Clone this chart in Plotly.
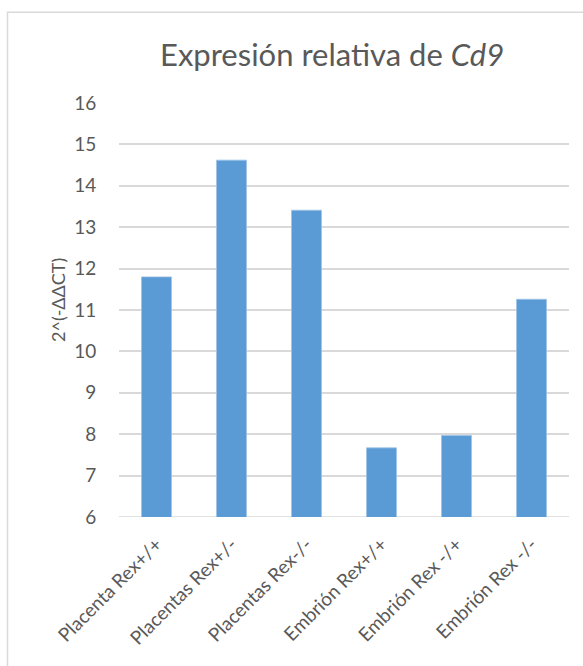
import plotly.graph_objects as go

# Relative Cd9 expression per sample group
categories = [
    "Placenta Rex+/+",
    "Placentas Rex+/-",
    "Placentas Rex-/-",
    "Embrión Rex+/+",
    "Embrión Rex -/+",
    "Embrión Rex -/-",
]
values = [11.80, 14.62, 13.41, 7.67, 7.97, 11.26]
y_ticks = [6, 7, 8, 9, 10, 11, 12, 13, 14, 15, 16]

W, H = 583, 666
ML, MR, MT, MB = 119, 14, 103, 149
PW, PH = W - ML - MR, H - MT - MB

FONT = "Lato"
GRAY = "#595959"
GRID = "#D9D9D9"


def px_x(px):
    return (px - ML) / PW


def px_y(py):
    return (H - MB - py) / PH


fig = go.Figure(
    go.Bar(
        x=categories,
        y=values,
        marker=dict(color="#5B9BD5", line=dict(color="#9DC3E6", width=0.8)),
    )
)

fig.update_layout(
    width=W,
    height=H,
    margin=dict(l=ML, r=MR, t=MT, b=MB, pad=0),
    paper_bgcolor="white",
    plot_bgcolor="white",
    bargap=0.6,
    showlegend=False,
    font=dict(family=FONT, color=GRAY),
    xaxis=dict(
        type="category",
        tickangle=-45,
        tickfont=dict(family=FONT, size=19, color=GRAY),
        showgrid=False,
        showline=False,
        zeroline=False,
        ticks="outside",
        ticklen=8,
        tickcolor="rgba(0,0,0,0)",
    ),
    yaxis=dict(
        range=[6, 16],
        tickvals=y_ticks,
        tickfont=dict(family=FONT, size=19, color=GRAY),
        showgrid=True,
        gridcolor=GRID,
        gridwidth=1.5,
        zeroline=False,
        showline=False,
        ticks="outside",
        ticklen=18,
        tickcolor="rgba(0,0,0,0)",
    ),
    shapes=[
        # chart frame
        dict(
            type="rect",
            xref="paper",
            yref="paper",
            x0=px_x(7.5),
            x1=px_x(600),
            y0=px_y(700),
            y1=px_y(12.3),
            line=dict(color=GRID, width=1.5),
            fillcolor="rgba(0,0,0,0)",
            layer="below",
        ),
        # category axis baseline
        dict(
            type="line",
            xref="paper",
            yref="y",
            x0=0,
            x1=1,
            y0=6,
            y1=6,
            line=dict(color=GRID, width=1.5),
            layer="below",
        ),
    ],
    annotations=[
        dict(
            text="Expresión relativa de <i>Cd9</i>",
            xref="paper",
            yref="paper",
            x=px_x(332),
            y=px_y(54),
            xanchor="center",
            yanchor="middle",
            showarrow=False,
            font=dict(family=FONT, size=31, color=GRAY),
        ),
        dict(
            text="2^(-ΔΔCT)",
            xref="paper",
            yref="paper",
            x=px_x(58),
            y=px_y(300),
            xanchor="center",
            yanchor="middle",
            textangle=-90,
            showarrow=False,
            font=dict(family=FONT, size=18, color=GRAY),
        ),
    ],
)

fig.write_html("out.html")
